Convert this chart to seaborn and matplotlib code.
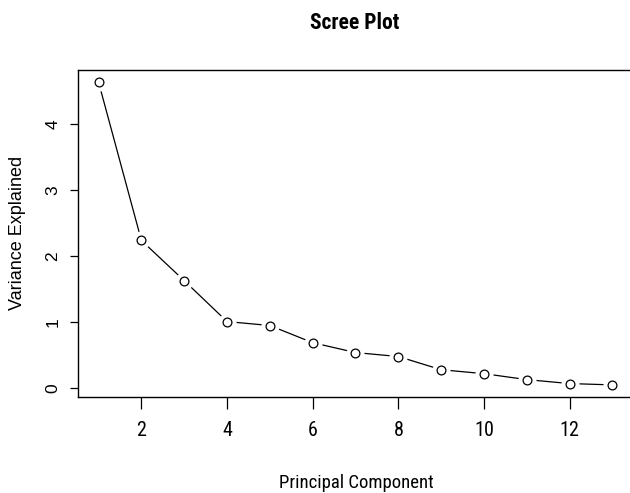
import matplotlib
matplotlib.use("Agg")
import matplotlib.pyplot as plt
import seaborn as sns
import pandas as pd

components = list(range(1, 14))
variance = [4.64, 2.24, 1.63, 1.01, 0.95, 0.69, 0.54, 0.48, 0.28, 0.22, 0.13, 0.07, 0.05]
x_ticks = [2, 4, 6, 8, 10, 12]
y_ticks = [0, 1, 2, 3, 4]
title = "Scree Plot"
xlabel = "Principal Component"
ylabel = "Variance Explained"

df = pd.DataFrame({"pc": components, "var": variance})

sns.set_style("white")
plt.rcParams['font.family'] = ['Roboto Condensed', 'DejaVu Sans']
plt.rcParams['text.color'] = 'black'
plt.rcParams['xtick.color'] = 'black'
plt.rcParams['ytick.color'] = 'black'

NARROW = ['Roboto Condensed', 'DejaVu Sans']
REG = ['Liberation Sans', 'DejaVu Sans']

fig = plt.figure(figsize=(6.3, 4.93), dpi=100)
ax = fig.add_axes([78/630, 1-397/493, (633-78)/630, (397-70)/493])

sns.lineplot(data=df, x="pc", y="var", ax=ax, color="black", linewidth=0.9, zorder=1)
# gaps around points (R type="b")
sns.scatterplot(data=df, x="pc", y="var", ax=ax, s=170, color="white",
                edgecolor="white", linewidth=0, zorder=2)
sns.scatterplot(data=df, x="pc", y="var", ax=ax, s=40, facecolor="white",
                edgecolor="black", linewidth=0.9, zorder=3)

xr = max(components) - min(components)
yr = max(variance) - min(variance)
ax.set_xlim(min(components) - 0.04*xr, max(components) + 0.04*xr)
ax.set_ylim(min(variance) - 0.04*yr, max(variance) + 0.04*yr)

ax.set_xticks(x_ticks)
ax.set_yticks(y_ticks)
ax.set_xticklabels([str(t) for t in x_ticks], fontsize=14.5, family=NARROW)
ax.set_yticklabels([str(t) for t in y_ticks], fontsize=12.5, rotation=90, va='center',
                   family=REG)
ax.tick_params(axis='x', direction='out', length=8.6, width=0.9, color='black',
               bottom=True, pad=9)
ax.tick_params(axis='y', direction='out', length=5.8, width=0.9, color='black',
               left=True, pad=7)

for s in ax.spines.values():
    s.set_color('black')
    s.set_linewidth(1.0)

ax.set_xlabel("")
ax.set_ylabel("")
fig.text(356/630, 1-483/493, xlabel, ha='center', va='center', fontsize=13.5,
         family=NARROW)
fig.text(18/630, 1-233/493, ylabel, ha='center', va='center', rotation=90,
         fontsize=13, family=REG)
fig.text(355/630, 1-23/493, title, ha='center', va='center', fontsize=15.5,
         fontweight='bold', family=NARROW)

fig.savefig("out.png", dpi=100)
